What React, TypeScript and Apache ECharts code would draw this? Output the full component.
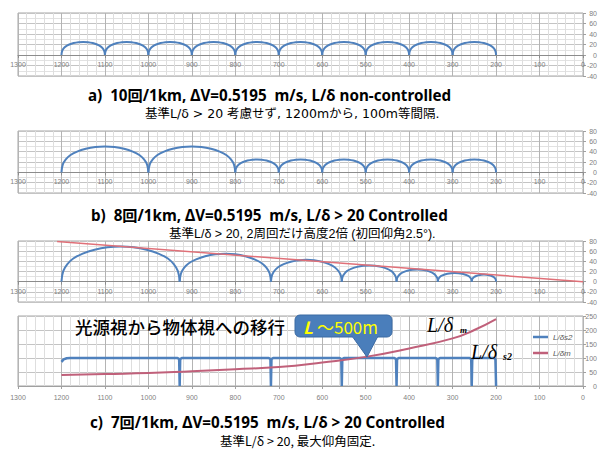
import React, { useEffect, useRef } from 'react';
import * as echarts from 'echarts';

// ---- data ----
const xTickLabels = ['1300', '1200', '1100', '1000', '900', '800', '700', '600', '500', '400', '300', '200', '100', '0'];
// normalised arc profile (fraction of span, fraction of peak)
const ARC_T = [0, 0.015, 0.05, 0.1, 0.18, 0.28, 0.39, 0.5, 0.61, 0.72, 0.82, 0.9, 0.95, 0.985, 1];
const ARC_H = [0, 0.3, 0.5, 0.66, 0.8, 0.91, 0.98, 1, 0.98, 0.91, 0.8, 0.66, 0.5, 0.3, 0];
// [start, end, peak height]
const arcsA = [[1200, 1100, 25], [1100, 1000, 25], [1000, 900, 25], [900, 800, 25], [800, 700, 25], [700, 600, 25], [600, 500, 25], [500, 400, 25], [400, 300, 25], [300, 200, 25]];
const arcsB = [[1200, 1000, 50], [1000, 800, 50], [800, 700, 25], [700, 600, 25], [600, 500, 25], [500, 400, 25], [400, 300, 25], [300, 200, 25]];
const arcsC = [[1200, 928, 69], [928, 718, 55], [718, 555, 43], [555, 429, 32], [429, 334, 24], [334, 256, 17], [256, 200, 14]];
const limitC = [[1210, 79], [0, 0]];
// chart d
const lds2Start = [[1200, 86], [1195, 95], [1188, 99], [1180, 100]];
const lds2Dips = [928, 718, 555, 429, 334, 256];
const DIP_SHAPE = [[5, 100], [1.2, 96], [0, 0], [-1.2, 96], [-5, 100]];
const lds2End = [[205, 100], [201.5, 96], [200, 0]];
const ldm = [[1200, 39], [1100, 43], [1000, 46], [900, 53], [800, 60], [700, 68], [600, 84], [500, 104], [400, 134], [300, 170], [250, 200], [200, 239]];

const BLUE = '#4f81bd';
const RED_C = '#e07078';
const RED_D = '#c0607a';
const LABEL_C = '#7f7f7f';

function buildLds2() {
  const out: number[][] = [...lds2Start];
  lds2Dips.forEach((d) => DIP_SHAPE.forEach(([dx, y]) => out.push([d + dx, y])));
  lds2End.forEach((p) => out.push(p));
  return out;
}

// main plot areas
const grids = [
  { top: 13, height: 63, yMin: -40, yMax: 80, yInt: 20 },
  { top: 131, height: 62, yMin: -40, yMax: 80, yInt: 20 },
  { top: 241, height: 61, yMin: -40, yMax: 80, yInt: 20 },
  { top: 316, height: 70, yMin: 0, yMax: 250, yInt: 50 },
];

export default function App() {
  const ref = useRef<HTMLDivElement>(null);
  useEffect(() => {
    if (!ref.current) return;
    const chart = echarts.init(ref.current, undefined, { renderer: 'svg' });

    const xLabelFmt = (v: number) => xTickLabels[Math.round((1300 - v) / 100)] ?? String(v);

    const grid: any[] = grids.map((g) => ({
      left: 18, right: 20, top: g.top, height: g.height, show: true,
      borderColor: '#a6a6a6', borderWidth: 1, backgroundColor: 'transparent',
    }));
    // helper grids whose bottom edge sits on y = 0 of charts a-c (x-axis crossing at zero)
    [0, 1, 2].forEach((i) => {
      const g = grids[i];
      grid.push({ left: 18, right: 20, top: g.top, height: (g.height * g.yMax) / (g.yMax - g.yMin), show: false });
    });

    const xAxis: any[] = grids.map((g, i) => ({
      type: 'value', gridIndex: i, min: 0, max: 1300, interval: 100, inverse: true, position: 'bottom',
      axisLine: { show: i === 3, onZero: false, lineStyle: { color: '#a0a0a0' } },
      axisTick: { show: i === 3, length: 3, lineStyle: { color: '#a0a0a0' } },
      axisLabel: {
        show: i === 3, fontSize: 7, color: LABEL_C, margin: 8, showMinLabel: true, showMaxLabel: true,
        fontFamily: 'Liberation Sans', formatter: xLabelFmt,
      },
      splitLine: { show: true, lineStyle: { color: '#b4b4b4', width: 1 } },
      minorTick: { show: false, splitNumber: 5 },
      minorSplitLine: { show: true, lineStyle: { color: '#dedede', width: 1 } },
    }));
    [4, 5, 6].forEach((gi) => {
      xAxis.push({
        type: 'value', gridIndex: gi, min: 0, max: 1300, interval: 100, inverse: true, position: 'bottom',
        axisLine: { show: true, onZero: false, lineStyle: { color: '#8c8c8c' } },
        axisTick: { show: true, length: 3, lineStyle: { color: '#8c8c8c' } },
        axisLabel: {
          fontSize: 7, color: LABEL_C, margin: 6, showMinLabel: true, showMaxLabel: true,
          fontFamily: 'Liberation Sans', formatter: xLabelFmt,
        },
        splitLine: { show: false },
      });
    });

    const yAxis: any[] = grids.map((g, i) => ({
      type: 'value', gridIndex: i, position: 'right',
      min: g.yMin, max: g.yMax, interval: g.yInt,
      axisLine: { show: false, onZero: false },
      axisTick: { show: true, length: 3, lineStyle: { color: '#a0a0a0' } },
      axisLabel: { fontSize: 7, color: LABEL_C, align: 'right', margin: 14, fontFamily: 'Liberation Sans' },
      splitLine: { show: true, lineStyle: { color: '#c4c4c4', width: 1 } },
      minorTick: { show: false, splitNumber: 2 },
      minorSplitLine: { show: i !== 3, lineStyle: { color: '#e2e2e2', width: 1 } },
    }));
    [4, 5, 6].forEach((gi) => {
      yAxis.push({ type: 'value', gridIndex: gi, min: 0, max: 80, show: false });
    });

    const arcSeries = (arcs: number[][], gi: number) =>
      arcs.map(([s, e, p]) => ({
        type: 'line', xAxisIndex: gi, yAxisIndex: gi,
        data: ARC_T.map((t, k) => [s + (e - s) * t, p * ARC_H[k]]),
        symbol: 'none', showSymbol: false, smooth: 0.4, silent: true, z: 3,
        lineStyle: { color: BLUE, width: 2 },
      }));

    const series: any[] = [
      ...arcSeries(arcsA, 0),
      ...arcSeries(arcsB, 1),
      ...arcSeries(arcsC, 2),
      {
        type: 'line', xAxisIndex: 2, yAxisIndex: 2, data: limitC, symbol: 'none', silent: true, z: 4,
        lineStyle: { color: RED_C, width: 1.5 },
      },
      {
        name: 'L/δs2', type: 'line', xAxisIndex: 3, yAxisIndex: 3, data: buildLds2(), symbol: 'none', silent: true, z: 3,
        lineStyle: { color: BLUE, width: 2.5 }, itemStyle: { color: BLUE },
      },
      {
        name: 'L/δm', type: 'line', xAxisIndex: 3, yAxisIndex: 3, data: ldm, symbol: 'none', smooth: true, silent: true, z: 4,
        lineStyle: { color: RED_D, width: 2 }, itemStyle: { color: RED_D },
      },
    ];

    const boldFont = 'bold 15.2px "Noto Sans", "Noto Sans CJK JP", sans-serif';
    const t = (x: number, y: number, text: string, font: string, fill = '#000', z = 10) => ({
      type: 'text', x, y, z, silent: true,
      style: { text, font, fill, align: 'left', verticalAlign: 'middle' },
    });

    const graphic: any[] = [
      t(88, 95, 'a)  10回/1km, ΔV=0.5195  m/s, L/δ non-controlled', boldFont),
      t(145, 113, '基準L/δ > 20 考慮せず, 1200mから, 100m等間隔.', '12.5px "DejaVu Sans", "Noto Sans CJK JP", sans-serif'),
      t(91, 215, 'b)  8回/1km, ΔV=0.5195  m/s, L/δ > 20 Controlled', boldFont),
      t(169, 234, '基準L/δ > 20, 2周回だけ高度2倍 (初回仰角2.5°).', '12.5px "Liberation Sans", "Noto Sans CJK JP", sans-serif'),
      t(90, 422, 'c)  7回/1km, ΔV=0.5195  m/s, L/δ > 20 Controlled', boldFont),
      t(220, 440, '基準L/δ > 20, 最大仰角固定.', '12.5px "Noto Sans CJK JP", sans-serif'),
      t(75, 326, '光源視から物体視への移行', '500 17.5px "Noto Sans CJK JP", sans-serif'),
      // callout
      {
        type: 'polygon', z: 11, silent: true,
        shape: { points: [[352, 336], [378, 336], [367, 357]] },
        style: { fill: '#4a7ebb', stroke: '#3b6aa3', lineWidth: 1 },
      },
      {
        type: 'rect', z: 11, silent: true,
        shape: { x: 295, y: 315, width: 97, height: 22, r: 5 },
        style: { fill: '#4a7ebb', stroke: '#3b6aa3', lineWidth: 1 },
      },
      {
        type: 'rect', z: 12, silent: true,
        shape: { x: 353, y: 334, width: 24, height: 4 },
        style: { fill: '#4a7ebb' },
      },
      t(303, 326, 'L', 'italic bold 17px "Noto Sans CJK JP", sans-serif', '#ffff00', 13),
      t(317, 326, '～500m', '17px "Noto Sans CJK JP", sans-serif', '#ffff00', 13),
      // L/δ annotations
      t(427, 325, 'L/δ', 'italic 20px "Liberation Serif", serif'),
      t(460, 330, 'm', 'italic bold 9px "Liberation Serif", serif'),
      t(471, 352, 'L/δ', 'italic 20px "Liberation Serif", serif'),
      t(503, 356, 's2', 'italic bold 10px "Liberation Serif", serif'),
    ];

    chart.setOption({
      animation: false,
      backgroundColor: '#ffffff',
      grid, xAxis, yAxis, series, graphic,
      legend: {
        data: ['L/δs2', 'L/δm'], orient: 'vertical', left: 533, top: 333,
        icon: 'rect', itemWidth: 15, itemHeight: 2.5, itemGap: 8, padding: 0,
        textStyle: { fontSize: 8, lineHeight: 8, fontStyle: 'italic', color: '#595959', fontFamily: 'Liberation Sans' },
      },
    });
    return () => chart.dispose();
  }, []);

  return (
    <div
      ref={ref}
      style={{ position: 'fixed', left: 0, top: 0, width: 603, height: 451, background: '#fff' }}
    />
  );
}
